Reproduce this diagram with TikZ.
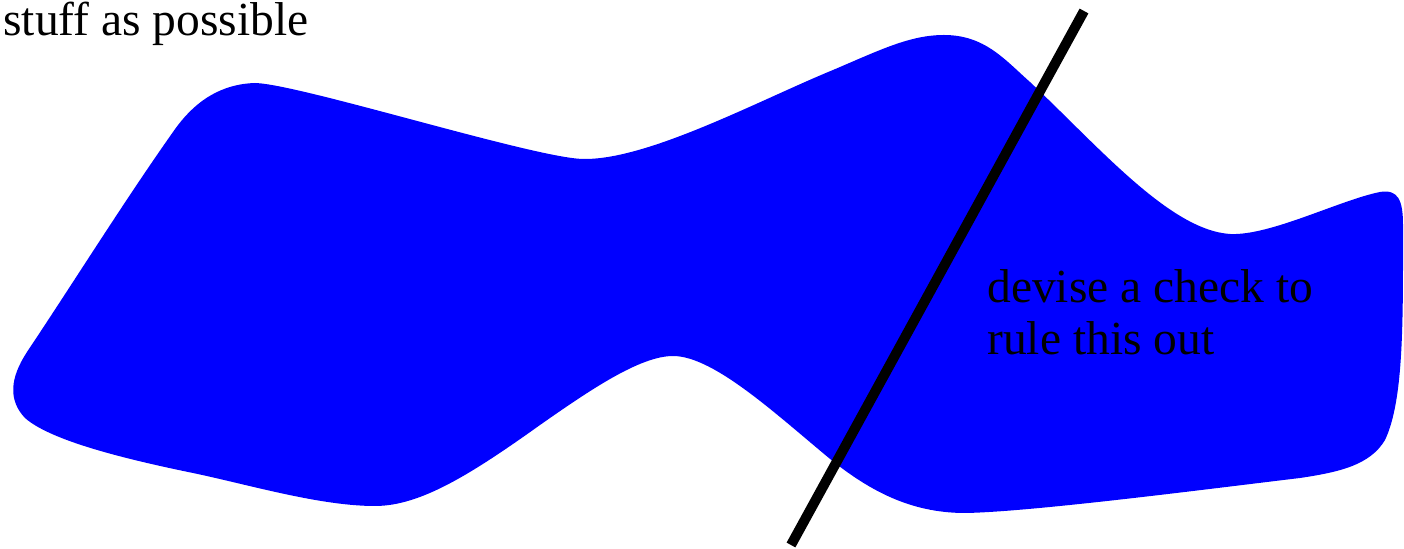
\documentclass[tikz,border=0pt]{standalone}
\usepackage{fontspec}
\setmainfont{Liberation Serif}
\definecolor{blobblue}{RGB}{0,0,255}
\begin{document}
\begin{tikzpicture}[x=0.5pt,y=-0.5pt,
  blob/.style={fill=blobblue,draw=none},
  cutline/.style={draw=black,line width=5pt,line cap=butt},
  lbl/.style={anchor=base west,inner sep=0pt,font=\fontsize{23.75}{26}\selectfont}]
\useasboundingbox (0,0) rectangle (1404,549);
\fill[blob] (25,418)
  .. controls (8,400) and (10,378) .. (27,352)
  .. controls (75,280) and (125,200) .. (173,132)
  .. controls (195,100) and (222,84) .. (255,83)
  .. controls (300,84) and (540,160) .. (585,159)
  .. controls (650,159) and (760,100) .. (833,70)
  .. controls (880,50) and (910,35) .. (944,35)
  .. controls (985,35) and (1005,60) .. (1030,82)
  .. controls (1100,148) and (1170,230) .. (1230,234)
  .. controls (1270,236) and (1340,200) .. (1380,192)
  .. controls (1398,189) and (1403,200) .. (1403,225)
  .. controls (1403,320) and (1404,400) .. (1385,440)
  .. controls (1370,465) and (1340,472) .. (1300,478)
  .. controls (1200,490) and (1030,512) .. (965,513)
  .. controls (910,513) and (870,490) .. (835,463)
  .. controls (780,418) and (715,356) .. (673,356)
  .. controls (640,356) and (590,390) .. (540,425)
  .. controls (470,475) and (420,506) .. (375,506)
  .. controls (320,506) and (250,485) .. (193,473)
  .. controls (120,458) and (50,440) .. (25,418) -- cycle;
\coordinate (top) at (1084,11);
\coordinate (bot) at (791,545);
\draw[cutline] (top) -- (bot);
\node[lbl] (stuff) at (3,36) {stuff as possible};
\node[lbl] (check1) at (987,303) {devise a check to};
\node[lbl] (check2) at (987,355) {rule this out};
\end{tikzpicture}
\end{document}
